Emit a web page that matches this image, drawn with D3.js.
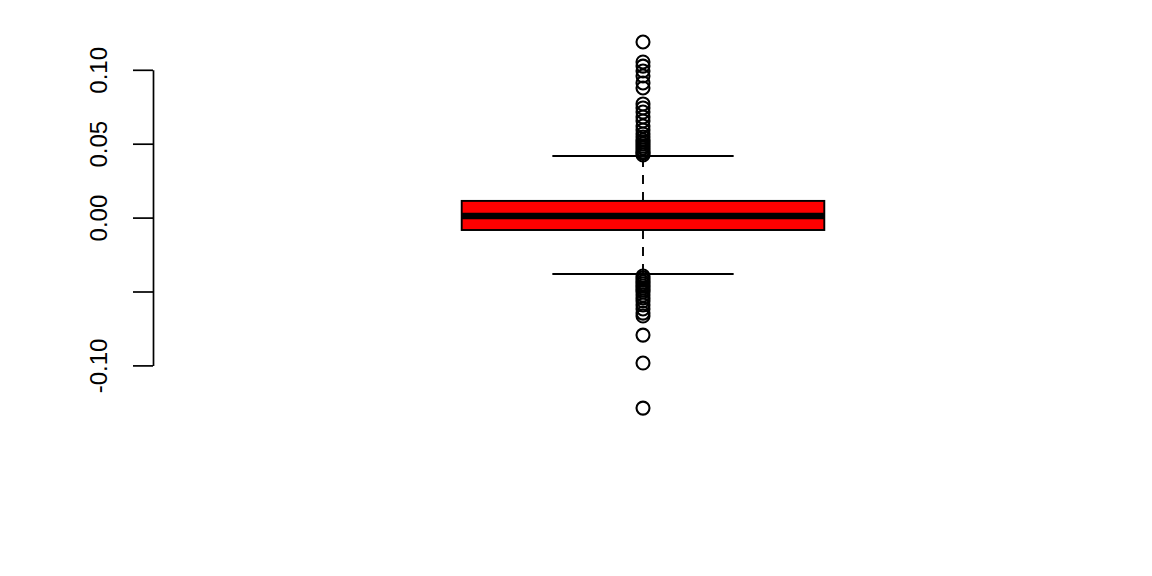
<!DOCTYPE html>
<html>
<head>
<meta charset="utf-8">
<script src="https://cdn.jsdelivr.net/npm/d3@7"></script>
<style>
  html, body { margin: 0; padding: 0; background: #ffffff; }
  svg { display: block; }
</style>
</head>
<body>
<svg id="chart" width="1152" height="576"></svg>
<script>
// ---- data ----
const categories = ["returns"];
const boxQ1 = [-0.0084];
const boxMedian = [0.0011];
const boxQ3 = [0.0113];
const whiskerLow = [-0.0382];
const whiskerHigh = [0.0417];
const outliersHigh = [0.1188, 0.1053, 0.1025, 0.0992, 0.0958, 0.0911, 0.0877, 0.0769, 0.0742,
  0.0714, 0.0681, 0.0654, 0.0620, 0.0593, 0.0566, 0.0545, 0.0525, 0.0512, 0.0498, 0.0484,
  0.0471, 0.0457, 0.0444, 0.0437, 0.0424];
const outliersLow = [-0.0395, -0.0409, -0.0422, -0.0436, -0.0449, -0.0463, -0.0476, -0.0490,
  -0.0503, -0.0524, -0.0544, -0.0564, -0.0591, -0.0618, -0.0646, -0.0666, -0.0795, -0.0984, -0.1289];
const tickValues = [-0.10, -0.05, 0.00, 0.05, 0.10];
const tickLabels = ["-0.10", "", "0.00", "0.05", "0.10"];

// ---- scales ----
const svg = d3.select("#chart");
const axisX = 153;
const y = d3.scaleLinear().domain([-0.10, 0.10]).range([365.4, 69.8]);
const x = d3.scaleBand().domain(categories).range([axisX, 1133]);
const boxW = x.bandwidth() * 0.37;
const capW = boxW / 2;

svg.append("rect").attr("width", 1152).attr("height", 576).attr("fill", "#ffffff");

// ---- y axis ----
const yAxis = d3.axisLeft(y)
  .tickValues(tickValues)
  .tickSize(20)
  .tickSizeOuter(0)
  .tickFormat((d, i) => tickLabels[i]);

const gA = svg.append("g").attr("transform", `translate(${axisX},0)`).call(yAxis);
gA.select(".domain").attr("stroke", "#000").attr("stroke-width", 1.7);
gA.selectAll(".tick line").attr("stroke", "#000").attr("stroke-width", 1.7);
gA.selectAll(".tick text")
  .attr("x", null).attr("dy", null).attr("y", null)
  .attr("transform", "translate(-46,0) rotate(-90)")
  .attr("text-anchor", "middle")
  .attr("fill", "#000")
  .style("font-family", "'Liberation Sans', Arial, Helvetica, sans-serif")
  .style("font-size", "24px");

// ---- box ----
const g = svg.append("g");
categories.forEach((c, i) => {
  const cx = x(c) + x.bandwidth() / 2;

  // whiskers (dashed)
  g.append("line")
    .attr("x1", cx).attr("x2", cx)
    .attr("y1", y(boxQ3[i])).attr("y2", y(whiskerHigh[i]))
    .attr("stroke", "#000").attr("stroke-width", 1.9).attr("stroke-dasharray", "9,8");
  g.append("line")
    .attr("x1", cx).attr("x2", cx)
    .attr("y1", y(boxQ1[i])).attr("y2", y(whiskerLow[i]))
    .attr("stroke", "#000").attr("stroke-width", 1.9).attr("stroke-dasharray", "9,8");

  // staples
  [whiskerHigh[i], whiskerLow[i]].forEach(v => {
    g.append("line")
      .attr("x1", cx - capW / 2).attr("x2", cx + capW / 2)
      .attr("y1", y(v)).attr("y2", y(v))
      .attr("stroke", "#000").attr("stroke-width", 1.9);
  });

  // box
  g.append("rect")
    .attr("x", cx - boxW / 2).attr("width", boxW)
    .attr("y", y(boxQ3[i])).attr("height", y(boxQ1[i]) - y(boxQ3[i]))
    .attr("fill", "#ff0000").attr("stroke", "#000").attr("stroke-width", 1.9);

  // median
  g.append("line")
    .attr("x1", cx - boxW / 2).attr("x2", cx + boxW / 2)
    .attr("y1", y(boxMedian[i])).attr("y2", y(boxMedian[i]))
    .attr("stroke", "#000").attr("stroke-width", 6.5);

  // outliers
  g.selectAll(null)
    .data(outliersHigh.concat(outliersLow))
    .enter().append("circle")
    .attr("cx", cx).attr("cy", d => y(d)).attr("r", 6.5)
    .attr("fill", "none").attr("stroke", "#000").attr("stroke-width", 2.1);
});
</script>
</body>
</html>
